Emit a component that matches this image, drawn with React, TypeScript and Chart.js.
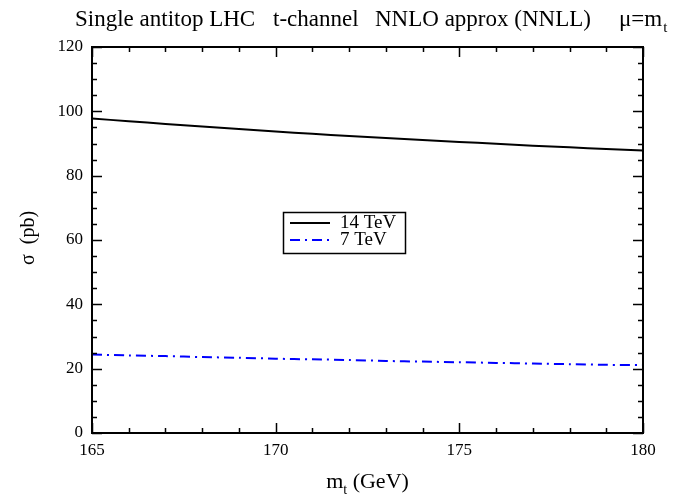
import React, { useEffect, useRef } from "react";
import { Chart, registerables } from "chart.js";

Chart.register(...registerables);

const masses = [165, 166, 167, 168, 169, 170, 171, 172, 173, 174, 175, 176, 177, 178, 179, 180];
const sigma14 = [97.8, 96.9, 96.1, 95.3, 94.5, 93.7, 93.0, 92.3, 91.7, 91.1, 90.5, 89.9, 89.3, 88.8, 88.3, 87.8];
const sigma7 = [24.4, 24.1, 23.9, 23.6, 23.4, 23.1, 22.9, 22.7, 22.4, 22.2, 22.0, 21.8, 21.6, 21.4, 21.2, 21.1];
const seriesLabels = ["14 TeV", "7 TeV"];
const xTicksMajor = [165, 170, 175, 180];
const yTicksMajor = [0, 20, 40, 60, 80, 100, 120];
const titleParts = ["Single antitop LHC", "t-channel", "NNLO approx (NNLL)", "\u03bc=m"];

const FONT = '"Liberation Serif", "DejaVu Serif", serif';

const decorPlugin = {
  id: "decor",
  afterDraw(chart: any) {
    const { ctx, chartArea: a, scales } = chart;
    const xs = scales.x;
    const ys = scales.y;
    ctx.save();
    // frame
    ctx.strokeStyle = "#000";
    ctx.lineWidth = 2;
    ctx.strokeRect(a.left, a.top, a.right - a.left, a.bottom - a.top);
    // ticks, inward, all four sides
    ctx.lineWidth = 1.5;
    ctx.beginPath();
    for (let v = xs.min; v <= xs.max + 1e-9; v += 1) {
      const px = Math.round(xs.getPixelForValue(v)) + 0.5;
      const major = Math.abs((v - 165) % 5) < 1e-9;
      const len = major ? 10 : 5;
      ctx.moveTo(px, a.bottom);
      ctx.lineTo(px, a.bottom - len);
      ctx.moveTo(px, a.top);
      ctx.lineTo(px, a.top + len);
    }
    for (let v = ys.min; v <= ys.max + 1e-9; v += 5) {
      const py = Math.round(ys.getPixelForValue(v)) + 0.5;
      const major = Math.abs(v % 20) < 1e-9;
      const len = major ? 10 : 5;
      ctx.moveTo(a.left, py);
      ctx.lineTo(a.left + len, py);
      ctx.moveTo(a.right, py);
      ctx.lineTo(a.right - len, py);
    }
    ctx.stroke();

    ctx.fillStyle = "#000";
    ctx.textBaseline = "alphabetic";
    // title
    ctx.font = `23px ${FONT}`;
    ctx.textAlign = "left";
    const tpos = [75, 273, 375, 619];
    titleParts.forEach((t, i) => ctx.fillText(t, tpos[i], 26));
    const lastW = ctx.measureText(titleParts[3]).width;
    ctx.font = `15px ${FONT}`;
    ctx.fillText("t", tpos[3] + lastW + 1, 32);

    // x-axis title
    const cx = (a.left + a.right) / 2;
    ctx.font = `22px ${FONT}`;
    const m = "m";
    const rest = " (GeV)";
    const mw = ctx.measureText(m).width;
    const rw = ctx.measureText(rest).width;
    ctx.font = `14px ${FONT}`;
    const sw = ctx.measureText("t").width;
    const total = mw + sw + rw;
    const x0 = cx - total / 2;
    ctx.font = `22px ${FONT}`;
    ctx.fillText(m, x0, 488);
    ctx.font = `14px ${FONT}`;
    ctx.fillText("t", x0 + mw, 494);
    ctx.font = `22px ${FONT}`;
    ctx.fillText(rest, x0 + mw + sw, 488);

    // y-axis title
    ctx.save();
    ctx.translate(34, 238);
    ctx.rotate(-Math.PI / 2);
    ctx.textAlign = "center";
    ctx.font = `20px ${FONT}`;
    ctx.fillText("\u03c3  (pb)", 0, 0);
    ctx.restore();

    // legend
    const lx = 283, ly = 212, lw = 122, lh = 41;
    ctx.fillStyle = "#fff";
    ctx.fillRect(lx, ly, lw, lh);
    ctx.strokeStyle = "#000";
    ctx.lineWidth = 1.5;
    ctx.strokeRect(lx + 0.5, ly + 0.5, lw, lh);
    const ds = chart.data.datasets;
    ds.forEach((d: any, i: number) => {
      const yy = ly + 11 + i * 17;
      ctx.strokeStyle = d.borderColor;
      ctx.lineWidth = d.borderWidth;
      ctx.setLineDash(d.borderDash || []);
      ctx.beginPath();
      ctx.moveTo(lx + 7, yy);
      ctx.lineTo(lx + 47, yy);
      ctx.stroke();
      ctx.setLineDash([]);
      ctx.fillStyle = "#000";
      ctx.font = `19px ${FONT}`;
      ctx.textAlign = "left";
      ctx.textBaseline = "middle";
      ctx.fillText(d.label, lx + 57, yy);
    });
    ctx.restore();
  },
};

export default function App() {
  const ref = useRef<HTMLCanvasElement>(null);
  useEffect(() => {
    if (!ref.current) return;
    const chart = new Chart(ref.current, {
      type: "line",
      data: {
        datasets: [
          {
            label: seriesLabels[0],
            data: masses.map((m, i) => ({ x: m, y: sigma14[i] })),
            borderColor: "#000000",
            borderWidth: 2,
            pointRadius: 0,
            tension: 0.3,
            fill: false,
          },
          {
            label: seriesLabels[1],
            data: masses.map((m, i) => ({ x: m, y: sigma7[i] })),
            borderColor: "#0000ff",
            borderWidth: 2,
            borderDash: [10, 5, 2, 5],
            pointRadius: 0,
            tension: 0.3,
            fill: false,
          },
        ],
      },
      options: {
        animation: false,
        responsive: false,
        devicePixelRatio: 1,
        layout: { padding: { top: 47, right: 45, left: 0, bottom: 0 } },
        plugins: { legend: { display: false }, tooltip: { enabled: false }, title: { display: false } },
        scales: {
          x: {
            type: "linear",
            min: 165,
            max: 180,
            afterFit: (s: any) => { s.height = 69; },
            afterBuildTicks: (s: any) => { s.ticks = xTicksMajor.map((v) => ({ value: v })); },
            grid: { display: false, drawTicks: false },
            border: { display: false },
            ticks: { color: "#000", font: { family: FONT, size: 17 }, padding: 7, maxRotation: 0 },
          },
          y: {
            type: "linear",
            min: 0,
            max: 120,
            afterFit: (s: any) => { s.width = 92; },
            afterBuildTicks: (s: any) => { s.ticks = yTicksMajor.map((v) => ({ value: v })); },
            grid: { display: false, drawTicks: false },
            border: { display: false },
            ticks: { color: "#000", font: { family: FONT, size: 17 }, padding: 9 },
          },
        },
      },
      plugins: [decorPlugin],
    });
    return () => chart.destroy();
  }, []);
  return (
    <div style={{ position: "fixed", left: 0, top: 0, width: 688, height: 502, background: "#fff" }}>
      <canvas ref={ref} width={688} height={502} />
    </div>
  );
}
